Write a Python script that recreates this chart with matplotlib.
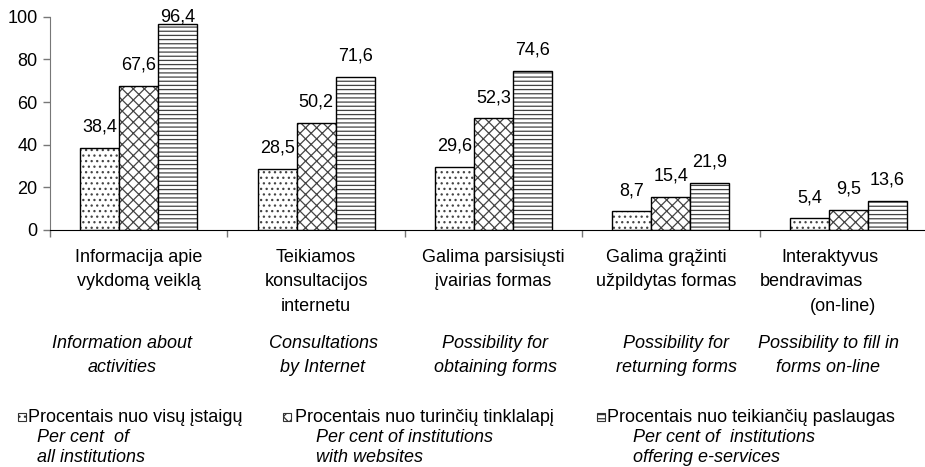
import matplotlib.pyplot as plt
from matplotlib.patches import Rectangle
from matplotlib.transforms import blended_transform_factory
import numpy as np

plt.rcParams['font.family'] = ['Liberation Sans', 'DejaVu Sans']
plt.rcParams['hatch.linewidth'] = 0.9

W, H = 925, 467  # figure size in pixels

categories_lt = [
    ['Informacija apie', 'vykdomą veiklą'],
    ['Teikiamos', 'konsultacijos', 'internetu'],
    ['Galima parsisiųsti', 'įvairias formas'],
    ['Galima grąžinti', 'užpildytas formas'],
    ['Interaktyvus', 'bendravimas', '(on-line)'],
]
categories_en = [
    ['Information about', 'activities'],
    ['Consultations', 'by Internet'],
    ['Possibility for', 'obtaining forms'],
    ['Possibility for', 'returning forms'],
    ['Possibility to fill in', 'forms on-line'],
]
series_lt = ['Procentais nuo visų įstaigų',
             'Procentais nuo turinčių tinklalapį',
             'Procentais nuo teikiančių paslaugas']
series_en = [['Per cent  of', 'all institutions'],
             ['Per cent of institutions', 'with websites'],
             ['Per cent of  institutions', 'offering e-services']]

all_institutions = [38.4, 28.5, 29.6, 8.7, 5.4]
with_websites = [67.6, 50.2, 52.3, 15.4, 9.5]
offering_services = [96.4, 71.6, 74.6, 21.9, 13.6]

series = [all_institutions, with_websites, offering_services]
hatches = ['...', 'xxx', '----']

fig = plt.figure(figsize=(W / 100, H / 100), dpi=100)
group_px = 177.4
ax = fig.add_axes([50 / W, 1 - 230 / H, 5 * group_px / W, (230 - 16.7) / H])

x = np.arange(len(categories_lt))
bw = 0.22
for j, vals in enumerate(series):
    xs = x + (j - 1) * bw
    ax.bar(xs, vals, bw, color='white', edgecolor='#444444', hatch=hatches[j], linewidth=0)
    ax.bar(xs, vals, bw, fill=False, edgecolor='black', linewidth=1)
    for xi, v in zip(xs, vals):
        ax.text(xi, min(v + 9.8, 100), f'{v:.1f}'.replace('.', ','),
                ha='center', va='center', fontsize=13, clip_on=False)

ax.set_xlim(-0.5, len(categories_lt) - 0.5)
ax.set_ylim(0, 100)
ax.set_yticks(range(0, 101, 20))
ax.set_xticks(np.arange(-0.5, len(categories_lt), 1))
ax.set_xticklabels([])
ax.tick_params(axis='x', length=5, color='#777777', width=1)
ax.tick_params(axis='y', length=5, color='#777777', width=1, labelsize=13, pad=4)
for s in ['top', 'right']:
    ax.spines[s].set_visible(False)
ax.spines['left'].set_color('#777777')
ax.spines['bottom'].set_color('black')

# category labels (x in data units, y in pixels from top)
tr = blended_transform_factory(ax.transData, fig.transFigure)
lt_dx = [0, 0, 0, -5, None]
g5_px = [830, 811, 843]
for i, lines in enumerate(categories_lt):
    for k, line in enumerate(lines):
        yy = 1 - (257.5 + k * 24.5) / H
        if lt_dx[i] is None:
            fig.text(g5_px[k] / W, yy, line, ha='center', va='center', fontsize=13)
        else:
            ax.text(i + lt_dx[i] / group_px, yy, line, transform=tr,
                    ha='center', va='center', fontsize=13)

en_px = [122, 323, 495, 676, 828]
for i, lines in enumerate(categories_en):
    for k, line in enumerate(lines):
        fig.text(en_px[i] / W, 1 - (343.5 + k * 24.5) / H, line, ha='center',
                 va='center', fontsize=13, style='italic')

# legend
sq_px = [18, 283, 597]
lt_px = [28, 295, 607]
en_leg_px = [37, 316, 633]
for j in range(3):
    fig.add_artist(Rectangle((sq_px[j] / W, 1 - 421 / H), 8 / W, 8 / H,
                             transform=fig.transFigure, facecolor='white',
                             edgecolor='#333333', hatch=hatches[j], linewidth=0.8))
    fig.text(lt_px[j] / W, 1 - 417 / H, series_lt[j], ha='left', va='center', fontsize=13)
    for k, line in enumerate(series_en[j]):
        fig.text(en_leg_px[j] / W, 1 - (437 + k * 20.5) / H, line, ha='left',
                 va='center', fontsize=13, style='italic')

fig.savefig('out.png', dpi=100)
